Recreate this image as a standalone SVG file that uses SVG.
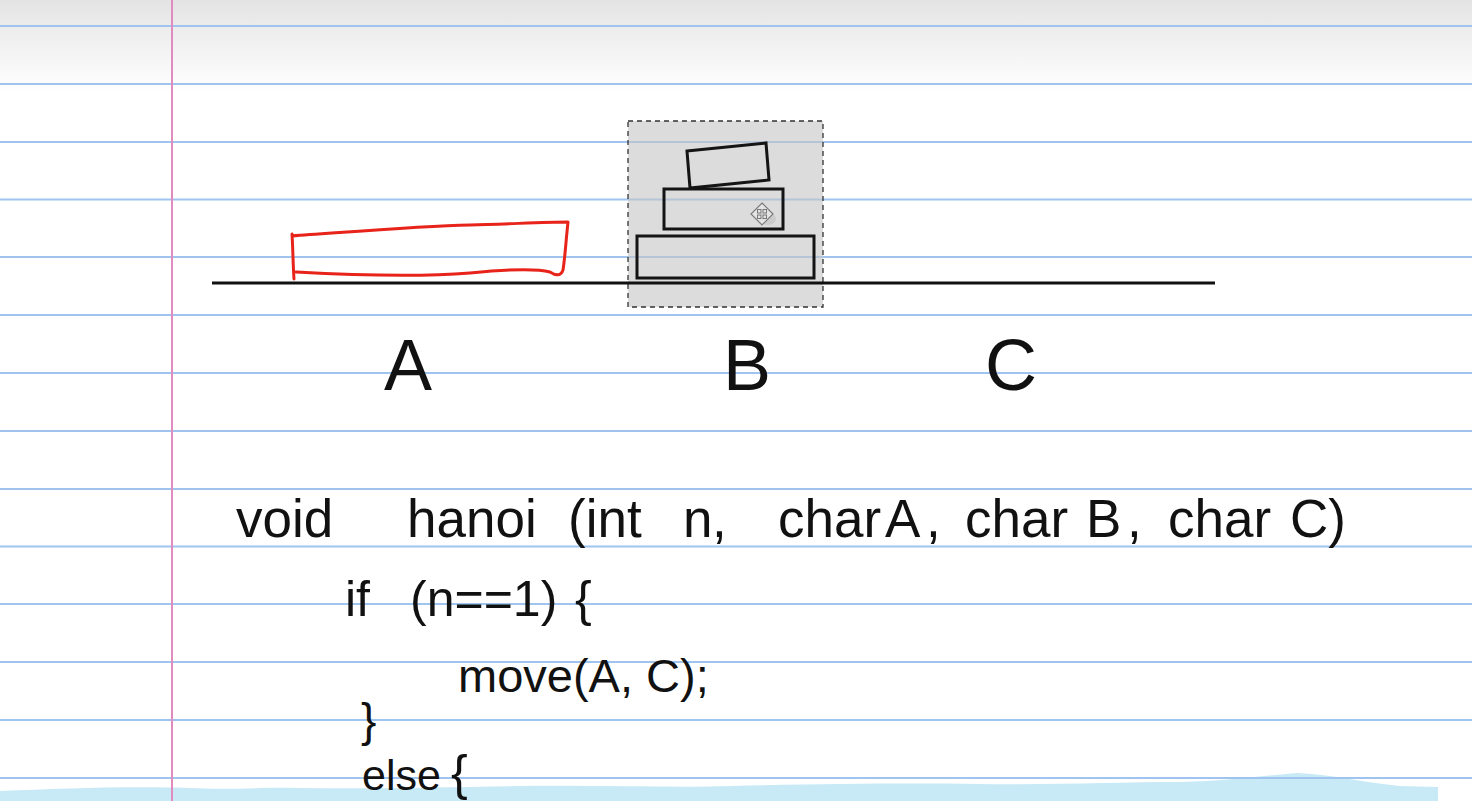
<svg xmlns="http://www.w3.org/2000/svg" width="1472" height="801" viewBox="0 0 1472 801">
  <defs>
    <linearGradient id="topShade" x1="0" y1="0" x2="0" y2="1">
      <stop offset="0" stop-color="#e3e3e3"/>
      <stop offset="0.28" stop-color="#ececec"/>
      <stop offset="1" stop-color="#ffffff"/>
    </linearGradient>
    <style>
      .rule { stroke: #9ec4ef; stroke-width: 2; }
      .hand { font-family: "Liberation Sans", Arial, sans-serif; fill: #111; }
      .box { fill: none; stroke: #141414; stroke-width: 3; }
    </style>
  </defs>

  <!-- paper -->
  <rect x="0" y="0" width="1472" height="801" fill="#ffffff"/>
  <rect x="0" y="0" width="1472" height="92" fill="url(#topShade)"/>

  <!-- bottom blue band -->
  <path d="M0,791 C60,789 120,786 190,788 C230,790 260,787 300,788 C380,789 450,787 520,786 C600,785 680,788 730,786 C820,784 900,783 980,784 C1060,785 1120,782 1180,782 C1230,781 1260,776 1297,773 C1330,774 1360,782 1400,786 L1438,787 L1438,801 L0,801 Z" fill="#c8eaf7"/>

  <!-- ruled lines -->
  <g id="rules">
    <line class="rule" x1="0" y1="26" x2="1472" y2="26"/>
    <line class="rule" x1="0" y1="84" x2="1472" y2="84"/>
    <line class="rule" x1="0" y1="142" x2="1472" y2="142"/>
    <line class="rule" x1="0" y1="199.5" x2="1472" y2="199.5"/>
    <line class="rule" x1="0" y1="257" x2="1472" y2="257"/>
    <line class="rule" x1="0" y1="315" x2="1472" y2="315"/>
    <line class="rule" x1="0" y1="373" x2="1472" y2="373"/>
    <line class="rule" x1="0" y1="431" x2="1472" y2="431"/>
    <line class="rule" x1="0" y1="489" x2="1472" y2="489"/>
    <line class="rule" x1="0" y1="546.5" x2="1472" y2="546.5"/>
    <line class="rule" x1="0" y1="604" x2="1472" y2="604"/>
    <line class="rule" x1="0" y1="662" x2="1472" y2="662"/>
    <line class="rule" x1="0" y1="720" x2="1472" y2="720"/>
    <line class="rule" x1="0" y1="778" x2="1472" y2="778"/>
  </g>
  <line x1="172" y1="0" x2="172" y2="801" stroke="#e08cc0" stroke-width="2"/>

  <!-- selection box -->
  <g id="selection">
    <rect x="628" y="121" width="195" height="186" fill="#c4c4c4" fill-opacity="0.6" stroke="#333" stroke-width="1.3" stroke-dasharray="5,4"/>
  </g>

  <!-- base line -->
  <g id="connectors">
    <line x1="212" y1="283" x2="1215" y2="283" stroke="#111" stroke-width="3"/>
  </g>

  <!-- red disc on A -->
  <g id="disc-red">
    <path d="M292,236 C350,232 420,226 470,225 C510,224 545,222 568,222 C566,240 565,258 563,270 C561,276 556,276 550,272 C535,268 500,270 470,273 C420,277 350,275 296,272 M292,234 C293,250 293,265 294,279" fill="none" stroke="#e8231a" stroke-width="3" stroke-linejoin="round" stroke-linecap="round"/>
  </g>

  <!-- stacked discs on B -->
  <g id="disc-large">
    <rect class="box" x="637" y="236" width="177" height="42"/>
  </g>
  <g id="disc-medium">
    <rect class="box" x="664" y="189" width="119" height="40"/>
  </g>
  <g id="disc-small">
    <polygon class="box" points="687,151 766,143 769,180 690,188"/>
  </g>

  <!-- move cursor -->
  <g id="cursor">
    <ellipse cx="768" cy="219" rx="8" ry="6" fill="#bbb" opacity="0.5"/>
    <polygon points="762,203 773,214 762,225 751,214" fill="#e4e4e4" stroke="#7a7a7a" stroke-width="1.2"/>
    <rect x="757.5" y="209.5" width="3.5" height="3.5" fill="none" stroke="#777" stroke-width="1"/>
    <rect x="763" y="209.5" width="3.5" height="3.5" fill="none" stroke="#777" stroke-width="1"/>
    <rect x="757.5" y="215" width="3.5" height="3.5" fill="none" stroke="#777" stroke-width="1"/>
    <rect x="763" y="215" width="3.5" height="3.5" fill="none" stroke="#777" stroke-width="1"/>
  </g>

  <!-- peg labels -->
  <g id="label-A"><text class="hand" x="408" y="390" font-size="72" text-anchor="middle">A</text></g>
  <g id="label-B"><text class="hand" x="747" y="390" font-size="72" text-anchor="middle">B</text></g>
  <g id="label-C"><text class="hand" x="1011" y="390" font-size="72" text-anchor="middle">C</text></g>

  <!-- code -->
  <g id="code">
    <text class="hand" y="537" font-size="53"><tspan x="236">void</tspan> <tspan x="407">hanoi</tspan> <tspan x="568">(int</tspan> <tspan x="683">n</tspan><tspan x="712">,</tspan> <tspan x="778">char</tspan> <tspan x="885">A</tspan><tspan x="926">,</tspan> <tspan x="965">char</tspan> <tspan x="1086">B</tspan><tspan x="1127">,</tspan> <tspan x="1168">char</tspan> <tspan x="1290">C)</tspan></text>
    <text class="hand" y="616" font-size="50"><tspan x="345">if</tspan> <tspan x="410">(n==1)</tspan> <tspan x="575">{</tspan></text>
    <text class="hand" x="458" y="692" font-size="47">move(A, C);</text>
    <text class="hand" x="361" y="736" font-size="46">}</text>
    <text class="hand" y="790" font-size="43"><tspan x="362">else</tspan> <tspan x="451" font-size="50">{</tspan></text>
  </g>
</svg>
